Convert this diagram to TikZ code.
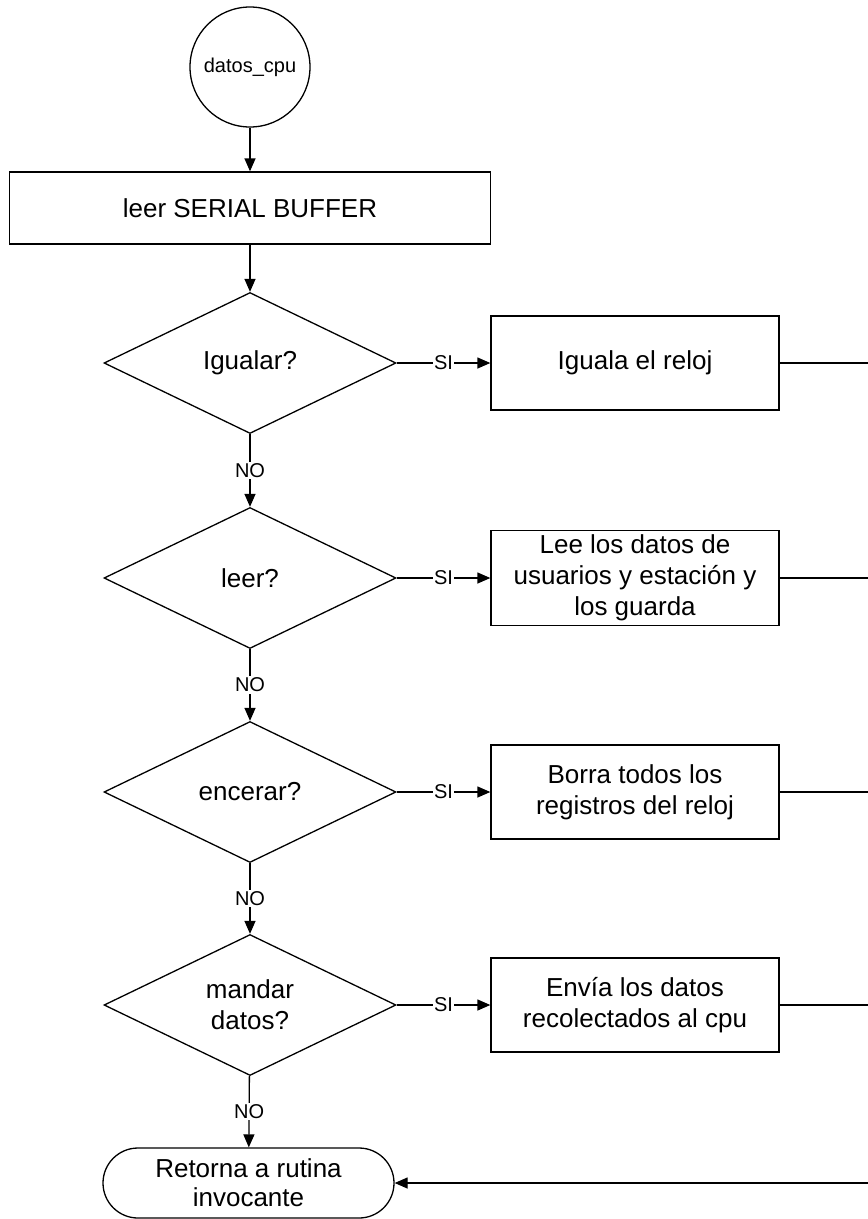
\documentclass[tikz,border=0pt]{standalone}
\usepackage{fontspec}
\setmainfont{Liberation Sans}
\usetikzlibrary{shapes.geometric,arrows.meta}
\begin{document}
\begin{tikzpicture}[x=1pt,y=-1pt,
  every node/.style={font=\fontsize{26}{31}\selectfont, inner sep=0pt},
  line/.style={draw=black, line width=1.3pt},
  arr/.style={line, -{Triangle[length=13pt,width=11pt]}},
  proc/.style={draw, line width=1.3pt, minimum width=288pt, minimum height=94pt, align=center},
  decision/.style={diamond, draw, line width=1.3pt, minimum width=292pt, minimum height=141pt, align=center},
  lbl/.style={fill=white, font=\fontsize{20}{22}\selectfont, inner sep=1.5pt}
]
\useasboundingbox (0,0) rectangle (868,1219);

% entry point and first step
\node[circle, draw, line width=1.3pt, minimum size=120pt, font=\fontsize{20}{22}\selectfont] (start) at (250,67) {datos\_cpu};
\node[draw, line width=1.3pt, minimum width=481pt, minimum height=72pt] (buf) at (250,208) {leer SERIAL BUFFER};

% decisions
\node[decision] (d1) at (250,363) {Igualar?};
\node[decision] (d2) at (250,578) {leer?};
\node[decision] (d3) at (250,792) {encerar?};
\node[decision] (d4) at (250,1005) {mandar\\datos?};

% actions
\node[proc] (p1) at (635,363) {Iguala el reloj};
\node[proc, minimum height=95pt] (p2) at (635,578) {Lee los datos de\\usuarios y estación y\\los guarda};
\node[proc] (p3) at (635,792) {Borra todos los\\registros del reloj};
\node[proc] (p4) at (635,1005) {Envía los datos\\recolectados al cpu};

% exit
\node[draw, line width=1.3pt, rounded corners=35pt, minimum width=291pt, minimum height=70pt, align=center, font=\fontsize{26}{29}\selectfont] (fin) at (248.5,1183) {Retorna a rutina\\invocante};

% return bus on the right edge
\coordinate (r1) at (868,363);
\coordinate (r2) at (868,578);
\coordinate (r3) at (868,792);
\coordinate (r4) at (868,1005);
\coordinate (r5) at (868,1183);

% main flow
\draw[arr] (start) -- (buf);
\draw[arr] (buf) -- (d1);
\draw[arr] (d1) -- node[lbl]{NO} (d2);
\draw[arr] (d2) -- node[lbl]{NO} (d3);
\draw[arr] (d3) -- node[lbl]{NO} (d4);
\draw[arr] (d4) -- node[lbl]{NO} (fin);

% yes branches
\draw[arr] (d1) -- node[lbl]{SI} (p1);
\draw[arr] (d2) -- node[lbl]{SI} (p2);
\draw[arr] (d3) -- node[lbl]{SI} (p3);
\draw[arr] (d4) -- node[lbl]{SI} (p4);

\draw[line] (p1) -- (r1);
\draw[line] (p2) -- (r2);
\draw[line] (p3) -- (r3);
\draw[line] (p4) -- (r4);
\draw[arr] (r5) -- (fin);
\end{tikzpicture}
\end{document}
